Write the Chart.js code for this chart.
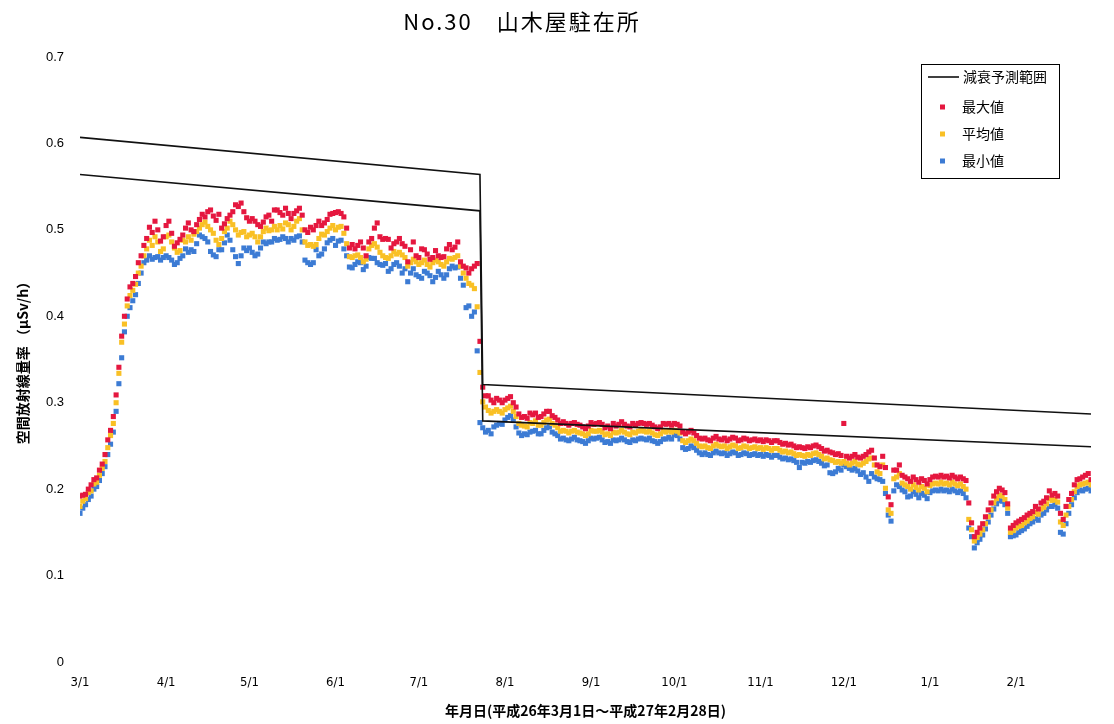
<!DOCTYPE html>
<html lang="ja">
<head>
<meta charset="utf-8">
<title>No.30 山木屋駐在所</title>
<script src="https://cdn.jsdelivr.net/npm/chart.js@4.4.1/dist/chart.umd.min.js"></script>
<style>
  html, body { margin: 0; padding: 0; background: #fff; }
  #wrap { width: 1114px; height: 724px; }
</style>
</head>
<body>
<div id="wrap"><canvas id="doseChart" width="1114" height="724"></canvas></div>
<script>
const chartTitle = "No.30\u3000山木屋駐在所";
const xTitle = "年月日(平成26年3月1日～平成27年2月28日)";
const yTitle = "空間放射線量率 （μSv/h）";

// day index from 2014/3/1 where each month starts
const monthTicks = [0, 31, 61, 92, 122, 153, 184, 214, 245, 275, 306, 337];
const monthLabels = ["3/1", "4/1", "5/1", "6/1", "7/1", "8/1", "9/1", "10/1", "11/1", "12/1", "1/1", "2/1"];
const yTicks = [0, 0.1, 0.2, 0.3, 0.4, 0.5, 0.6, 0.7];

// decay prediction range (upper / lower lines)
const decayDays = [0, 144, 145, 364];
const decayUpper = [0.607, 0.564, 0.321, 0.287];
const decayLower = [0.564, 0.522, 0.279, 0.249];

const seriesNames = ["減衰予測範囲", "最大値", "平均値", "最小値"];

// daily values, one per day from 3/1 to 2/28
const maxVals = [
  // Mar
  0.192,0.193,0.194,0.200,0.205,0.211,0.213,0.222,0.229,0.240,0.257,0.268,0.284,0.309,0.341,0.377,0.400,0.420,0.434,0.438,0.446,0.462,0.470,0.482,0.490,0.503,0.497,0.510,0.500,0.487,0.492,
  // Apr
  0.505,0.510,0.496,0.481,0.485,0.489,0.494,0.502,0.508,0.500,0.498,0.506,0.512,0.518,0.515,0.521,0.523,0.516,0.511,0.518,0.502,0.507,0.513,0.517,0.521,0.529,0.527,0.531,0.521,0.514,
  // May
  0.510,0.513,0.510,0.506,0.504,0.509,0.515,0.517,0.510,0.523,0.523,0.520,0.517,0.525,0.519,0.513,0.519,0.522,0.525,0.517,0.500,0.497,0.503,0.500,0.505,0.510,0.505,0.508,0.512,0.518,0.519,
  // Jun
  0.520,0.521,0.519,0.515,0.502,0.479,0.483,0.478,0.482,0.486,0.479,0.470,0.486,0.490,0.502,0.508,0.492,0.489,0.490,0.489,0.479,0.484,0.486,0.490,0.484,0.481,0.463,0.477,0.486,0.470,
  // Jul
  0.468,0.478,0.477,0.472,0.466,0.468,0.476,0.470,0.468,0.469,0.478,0.483,0.477,0.480,0.486,0.463,0.458,0.456,0.450,0.455,0.458,0.461,0.371,0.318,0.308,0.308,0.303,0.300,0.305,0.303,0.300,
  // Aug
  0.303,0.305,0.307,0.300,0.295,0.287,0.283,0.284,0.282,0.288,0.286,0.288,0.283,0.284,0.287,0.290,0.290,0.285,0.283,0.280,0.276,0.278,0.276,0.274,0.276,0.277,0.275,0.274,0.272,0.270,0.273,
  // Sep
  0.277,0.275,0.276,0.277,0.275,0.271,0.273,0.270,0.276,0.273,0.275,0.278,0.275,0.273,0.272,0.276,0.274,0.276,0.277,0.276,0.275,0.276,0.274,0.272,0.270,0.272,0.276,0.275,0.276,0.274,
  // Oct
  0.276,0.275,0.273,0.266,0.264,0.266,0.268,0.265,0.262,0.259,0.258,0.259,0.257,0.256,0.259,0.261,0.258,0.257,0.259,0.256,0.258,0.260,0.259,0.256,0.257,0.259,0.258,0.256,0.257,0.258,0.256,
  // Nov
  0.257,0.255,0.257,0.256,0.254,0.256,0.256,0.254,0.252,0.253,0.251,0.252,0.250,0.248,0.249,0.248,0.247,0.249,0.248,0.250,0.251,0.249,0.247,0.244,0.245,0.243,0.242,0.240,0.241,0.239,
  // Dec
  0.276,0.238,0.236,0.238,0.240,0.237,0.236,0.238,0.240,0.243,0.245,0.236,0.228,0.226,0.238,0.225,0.191,0.182,0.222,0.222,0.228,0.216,0.214,0.212,0.209,0.214,0.211,0.208,0.212,0.210,0.206,
  // Jan
  0.211,0.214,0.215,0.214,0.216,0.214,0.215,0.213,0.216,0.214,0.212,0.214,0.212,0.210,0.184,0.161,0.145,0.150,0.155,0.160,0.168,0.176,0.184,0.192,0.197,0.201,0.199,0.196,0.183,0.155,0.158,
  // Feb
  0.161,0.163,0.165,0.167,0.170,0.172,0.174,0.180,0.177,0.184,0.186,0.190,0.198,0.193,0.195,0.192,0.172,0.165,0.180,0.188,0.195,0.205,0.211,0.212,0.214,0.216,0.218,0.211
];

const avgVals = [
  0.180,0.186,0.189,0.196,0.198,0.206,0.208,0.216,0.224,0.232,0.248,0.262,0.276,0.300,0.334,0.370,0.391,0.412,0.424,0.430,0.437,0.450,0.458,0.470,0.478,0.488,0.482,0.492,0.486,0.475,0.478,
  0.492,0.494,0.486,0.479,0.474,0.476,0.488,0.486,0.492,0.488,0.495,0.498,0.502,0.506,0.509,0.504,0.500,0.496,0.488,0.483,0.490,0.498,0.502,0.510,0.506,0.500,0.494,0.497,0.498,0.492,
  0.494,0.496,0.492,0.486,0.492,0.498,0.502,0.499,0.500,0.504,0.500,0.505,0.501,0.508,0.506,0.500,0.504,0.510,0.513,0.500,0.486,0.482,0.483,0.481,0.483,0.490,0.495,0.494,0.498,0.502,0.505,
  0.500,0.503,0.504,0.496,0.484,0.469,0.468,0.470,0.471,0.468,0.463,0.466,0.478,0.482,0.484,0.480,0.474,0.470,0.468,0.467,0.470,0.475,0.472,0.474,0.471,0.468,0.458,0.462,0.466,0.463,
  0.460,0.462,0.465,0.460,0.457,0.462,0.465,0.463,0.460,0.458,0.463,0.467,0.466,0.468,0.470,0.458,0.450,0.444,0.438,0.436,0.432,0.411,0.335,0.301,0.295,0.291,0.288,0.290,0.292,0.290,0.288,
  0.292,0.294,0.296,0.290,0.284,0.276,0.274,0.273,0.272,0.277,0.276,0.279,0.274,0.274,0.277,0.280,0.281,0.276,0.274,0.271,0.267,0.268,0.267,0.265,0.267,0.268,0.266,0.265,0.264,0.262,0.264,
  0.268,0.267,0.267,0.268,0.266,0.263,0.264,0.262,0.266,0.265,0.266,0.268,0.266,0.264,0.263,0.266,0.265,0.267,0.268,0.267,0.266,0.267,0.265,0.263,0.262,0.264,0.267,0.266,0.268,0.266,
  0.268,0.267,0.265,0.256,0.254,0.256,0.258,0.256,0.253,0.250,0.249,0.250,0.248,0.247,0.250,0.252,0.250,0.249,0.250,0.247,0.249,0.251,0.250,0.247,0.248,0.250,0.249,0.247,0.248,0.249,0.247,
  0.248,0.246,0.248,0.247,0.245,0.247,0.247,0.245,0.243,0.244,0.242,0.243,0.241,0.239,0.240,0.239,0.238,0.240,0.239,0.241,0.242,0.240,0.238,0.235,0.236,0.234,0.233,0.231,0.232,0.230,
  0.232,0.230,0.228,0.230,0.232,0.229,0.228,0.230,0.232,0.235,0.236,0.228,0.220,0.218,0.228,0.201,0.176,0.172,0.212,0.214,0.218,0.207,0.205,0.203,0.200,0.205,0.202,0.199,0.203,0.201,0.197,
  0.204,0.206,0.207,0.206,0.208,0.206,0.207,0.205,0.208,0.206,0.204,0.206,0.203,0.200,0.165,0.153,0.140,0.144,0.148,0.153,0.160,0.168,0.176,0.184,0.189,0.193,0.192,0.188,0.178,0.150,0.152,
  0.155,0.157,0.158,0.161,0.163,0.166,0.168,0.173,0.171,0.177,0.179,0.183,0.189,0.187,0.188,0.185,0.162,0.158,0.170,0.180,0.188,0.197,0.203,0.205,0.206,0.207,0.208,0.205
];

const minVals = [
  0.172,0.178,0.182,0.188,0.192,0.200,0.203,0.210,0.218,0.226,0.240,0.252,0.266,0.290,0.322,0.352,0.382,0.400,0.410,0.418,0.425,0.438,0.450,0.462,0.465,0.470,0.466,0.468,0.469,0.465,0.468,
  0.470,0.468,0.465,0.460,0.462,0.467,0.470,0.478,0.474,0.477,0.475,0.484,0.494,0.492,0.490,0.486,0.475,0.471,0.469,0.477,0.477,0.485,0.494,0.488,0.477,0.469,0.461,0.470,0.479,0.476,
  0.479,0.474,0.470,0.472,0.479,0.486,0.484,0.486,0.486,0.490,0.488,0.489,0.492,0.490,0.486,0.490,0.488,0.492,0.493,0.486,0.465,0.462,0.460,0.462,0.477,0.470,0.472,0.478,0.485,0.488,0.490,
  0.482,0.487,0.488,0.478,0.470,0.457,0.456,0.460,0.463,0.462,0.454,0.458,0.468,0.467,0.467,0.462,0.460,0.459,0.461,0.452,0.455,0.460,0.462,0.458,0.450,0.455,0.440,0.450,0.455,0.448,
  0.446,0.444,0.452,0.450,0.447,0.440,0.445,0.452,0.448,0.444,0.448,0.455,0.458,0.456,0.457,0.444,0.436,0.410,0.412,0.400,0.405,0.360,0.277,0.271,0.266,0.268,0.264,0.272,0.274,0.276,0.275,
  0.280,0.283,0.285,0.280,0.272,0.265,0.262,0.264,0.263,0.266,0.267,0.268,0.264,0.264,0.268,0.271,0.272,0.266,0.264,0.262,0.258,0.259,0.257,0.256,0.258,0.260,0.257,0.256,0.255,0.253,0.256,
  0.259,0.258,0.259,0.260,0.257,0.254,0.255,0.253,0.257,0.256,0.257,0.259,0.257,0.255,0.254,0.257,0.256,0.258,0.259,0.258,0.257,0.259,0.256,0.255,0.253,0.255,0.258,0.258,0.260,0.258,
  0.263,0.262,0.258,0.248,0.246,0.247,0.250,0.248,0.245,0.242,0.240,0.242,0.240,0.239,0.242,0.244,0.242,0.241,0.242,0.239,0.241,0.243,0.242,0.239,0.240,0.242,0.241,0.239,0.240,0.241,0.239,
  0.240,0.238,0.240,0.239,0.237,0.239,0.239,0.237,0.235,0.236,0.234,0.235,0.233,0.231,0.225,0.231,0.230,0.232,0.231,0.233,0.234,0.232,0.230,0.227,0.228,0.219,0.218,0.220,0.224,0.222,
  0.228,0.226,0.224,0.222,0.224,0.221,0.217,0.219,0.214,0.209,0.218,0.214,0.212,0.211,0.209,0.195,0.170,0.163,0.198,0.205,0.203,0.199,0.197,0.191,0.192,0.197,0.194,0.190,0.195,0.193,0.189,
  0.196,0.198,0.199,0.198,0.200,0.198,0.199,0.197,0.200,0.198,0.196,0.198,0.195,0.190,0.155,0.145,0.132,0.138,0.142,0.147,0.154,0.162,0.170,0.177,0.183,0.187,0.186,0.182,0.172,0.145,0.146,
  0.147,0.150,0.152,0.154,0.157,0.160,0.162,0.166,0.164,0.170,0.172,0.176,0.180,0.180,0.182,0.178,0.150,0.148,0.160,0.172,0.182,0.190,0.196,0.199,0.198,0.200,0.201,0.198
];

const JP_FONT = '"Noto Sans CJK JP", "Noto Sans", sans-serif';
const colMax = "#e5173f";
const colAvg = "#f9c025";
const colMin = "#3c7bd4";

let toPoints = (vals) => vals.map((v, i) => ({ x: i, y: v }));
let toLine = (days, vals) => days.map((d, i) => ({ x: d, y: vals[i] }));

// title drawn off-centre like the original sheet
const titlePlugin = {
  id: "sheetTitle",
  afterDraw(chart) {
    const ctx = chart.ctx;
    ctx.save();
    ctx.font = "22px " + JP_FONT;
    ctx.letterSpacing = "2px";
    ctx.fillStyle = "#000";
    ctx.textAlign = "center";
    ctx.textBaseline = "middle";
    ctx.fillText(chartTitle, 522, 22);
    ctx.restore();
  }
};

const legendPlugin = {
  id: "boxLegend",
  afterDraw(chart) {
    const ctx = chart.ctx;
    const ds = chart.data.datasets;
    ctx.save();
    ctx.strokeStyle = "#000";
    ctx.lineWidth = 1;
    ctx.strokeRect(921.5, 64.5, 138, 114);
    ctx.font = "14px " + JP_FONT;
    ctx.fillStyle = "#000";
    ctx.textAlign = "left";
    ctx.textBaseline = "middle";
    ctx.lineWidth = 1.5;
    ctx.beginPath();
    ctx.moveTo(928, 77);
    ctx.lineTo(959, 77);
    ctx.stroke();
    ctx.fillText(ds[0].label, 963, 77);
    let rows = [107, 134, 161];
    [2, 3, 4].forEach((k, i) => {
      ctx.fillStyle = ds[k].backgroundColor;
      ctx.fillRect(940, rows[i] - 2.5, 5, 5);
      ctx.fillStyle = "#000";
      ctx.fillText(ds[k].label, 962, rows[i]);
    });
    ctx.restore();
  }
};

function buildChart() {
  let pointSet = (label, vals, color) => ({
    type: "scatter",
    label: label,
    data: toPoints(vals),
    backgroundColor: color,
    borderWidth: 0,
    pointStyle: "rect",
    pointRadius: 3.6,
    pointHoverRadius: 3.6
  });
  let lineSet = (label, vals) => ({
    type: "line",
    label: label,
    data: toLine(decayDays, vals),
    borderColor: "#111",
    borderWidth: 1.6,
    pointRadius: 0,
    fill: false,
    showLine: true,
    tension: 0
  });

  new Chart(document.getElementById("doseChart").getContext("2d"), {
    type: "scatter",
    data: {
      datasets: [
        lineSet(seriesNames[0], decayUpper),
        lineSet(seriesNames[0], decayLower),
        pointSet(seriesNames[1], maxVals, colMax),
        pointSet(seriesNames[2], avgVals, colAvg),
        pointSet(seriesNames[3], minVals, colMin)
      ]
    },
    options: {
      responsive: false,
      animation: false,
      layout: { padding: { top: 57, right: 23, left: 0, bottom: 0 } },
      plugins: {
        legend: { display: false },
        title: { display: false },
        tooltip: { enabled: false }
      },
      scales: {
        x: {
          type: "linear",
          min: 0,
          max: 364,
          grid: { display: false },
          border: { display: false },
          afterBuildTicks: (scale) => {
            scale.ticks = monthTicks.map((v) => ({ value: v }));
          },
          afterFit: (scale) => {
            scale.height = 62;
          },
          ticks: {
            autoSkip: false,
            maxRotation: 0,
            padding: 5,
            color: "#000",
            font: { family: '"Liberation Sans Narrow", "DejaVu Sans Condensed", sans-serif', size: 13 },
            callback: (value, index) => monthLabels[index]
          },
          title: {
            display: true,
            text: xTitle,
            color: "#000",
            font: { family: JP_FONT, size: 14, weight: "bold" },
            padding: { top: 0, bottom: 5 }
          }
        },
        y: {
          min: 0,
          max: 0.7,
          grid: { display: false },
          border: { display: false },
          afterBuildTicks: (scale) => {
            scale.ticks = yTicks.map((v) => ({ value: v }));
          },
          afterFit: (scale) => {
            scale.width = 80;
          },
          ticks: {
            padding: 8,
            color: "#000",
            font: { family: '"Liberation Sans", sans-serif', size: 13 },
            callback: (value) => (value === 0 ? "0" : value.toFixed(1))
          },
          title: {
            display: true,
            text: yTitle,
            color: "#000",
            font: { family: JP_FONT, size: 14, weight: "bold" },
            padding: { top: 14, bottom: 0 }
          }
        }
      }
    },
    plugins: [titlePlugin, legendPlugin]
  });
}

buildChart();
</script>
</body>
</html>
